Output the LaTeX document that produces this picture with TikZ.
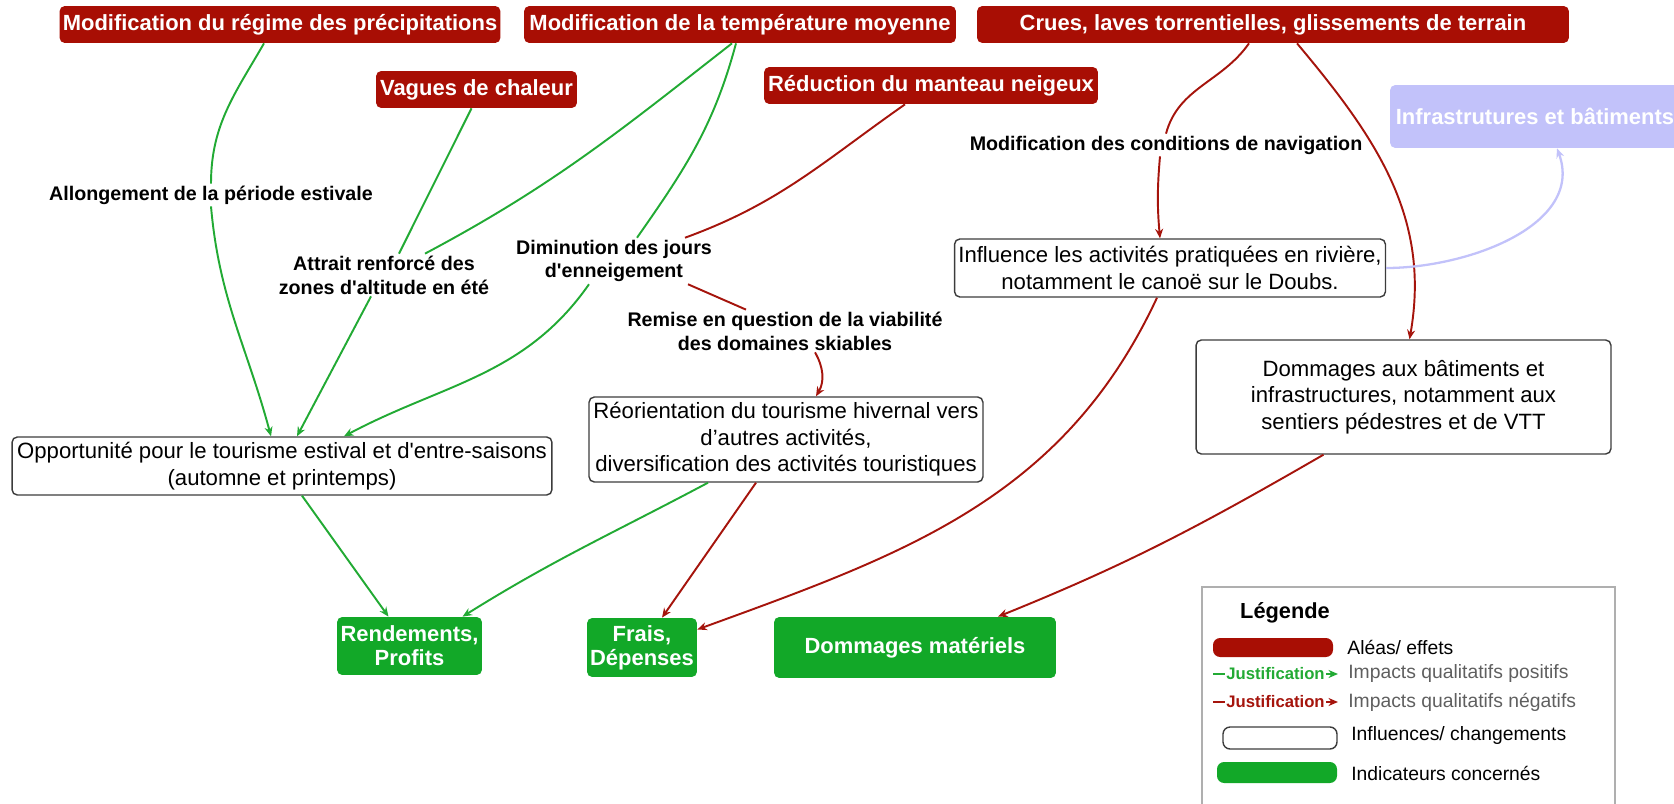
\documentclass[tikz,border=0pt]{standalone}
\usepackage{fontspec}
\setmainfont{Liberation Sans}
\usetikzlibrary{arrows.meta,calc}
\definecolor{aleaR}{RGB}{168,14,4}
\definecolor{negR}{RGB}{165,20,12}
\definecolor{posG}{RGB}{34,170,52}
\definecolor{indG}{RGB}{18,168,40}
\definecolor{ink}{RGB}{60,60,60}
\definecolor{infraB}{RGB}{194,194,250}
\definecolor{legGray}{RGB}{175,175,175}
\definecolor{txtGray}{RGB}{95,95,95}
\tikzset{
  alea/.style={rounded corners=3pt,fill=aleaR,text=white,inner sep=0pt,
    font=\bfseries\fontsize{12.5}{15}\selectfont,minimum height=0.74cm},
  chg/.style={draw=ink,line width=0.8pt,rounded corners=3pt,fill=white,inner sep=0pt,
    align=center,font=\fontsize{12.6}{15}\selectfont},
  indic/.style={rounded corners=3pt,fill=indG,text=white,inner sep=0pt,align=center,
    font=\bfseries\fontsize{12.5}{13.8}\selectfont},
  lbl/.style={inner sep=1pt,align=center,font=\bfseries\fontsize{11.2}{13.6}\selectfont},
  posline/.style={draw=posG,line width=1.1pt},
  negline/.style={draw=negR,line width=1.1pt},
  infline/.style={draw=infraB,line width=1.3pt},
  arr/.style={-{Stealth[length=1.9mm,width=1.6mm]}},
  legtxt/.style={anchor=west,inner sep=0pt,font=\fontsize{11}{13}\selectfont},
  justif/.style={fill=white,inner sep=0.5pt,font=\bfseries\fontsize{9.5}{11}\selectfont},
}

\begin{document}
\begin{tikzpicture}[x=0.02cm,y=-0.02cm]
\useasboundingbox (0,0) rectangle (1674,804);
\clip (0,0) rectangle (1674,804);

% aleas / effets
\node[alea,minimum width=8.82cm] (prec) at (280,24.5) {Modification du régime des précipitations};
\node[alea,minimum width=8.64cm] (temp) at (740,24.5) {Modification de la température moyenne};
\node[alea,minimum width=11.84cm] (crues) at (1273,24.5) {Crues, laves torrentielles, glissements de terrain};
\node[alea,minimum width=4.02cm] (vagues) at (476.5,89.5) {Vagues de chaleur};
\node[alea,minimum width=6.68cm] (neige) at (931,85.5) {Réduction du manteau neigeux};
\node[alea,fill=infraB,minimum width=5.8cm,minimum height=1.26cm] (infra) at (1535,116.5) {Infrastrutures et bâtiments};

% justifications
\node[lbl] (lallong) at (211,195) {Allongement de la période estivale};
\node[lbl] (lattrait) at (384,275) {Attrait renforcé des\\zones d\textquotesingle altitude en été};
\node[lbl] (ldimin) at (614,261) {Diminution des jours\\d\textquotesingle enneigement};
\node[lbl] (lremise) at (785,331) {Remise en question de la viabilité\\des domaines skiables};
\node[lbl] (lnav) at (1166,145) {Modification des conditions de navigation};

% influences / changements
\node[chg,minimum width=10.8cm,minimum height=1.16cm] (opport) at (282,466)
  {Opportunité pour le tourisme estival et d\textquotesingle entre-saisons\\(automne et printemps)};
\node[chg,minimum width=7.88cm,minimum height=1.7cm] (reor) at (786,439.5)
  {Réorientation du tourisme hivernal vers\\d’autres activités,\\ diversification des activités touristiques};
\node[chg,minimum width=8.62cm,minimum height=1.16cm] (canoe) at (1170,268)
  {Influence les activités pratiquées en rivière,\\notamment le canoë sur le Doubs.};
\node[chg,minimum width=8.3cm,minimum height=2.28cm] (dombat) at (1403.5,397)
  {Dommages aux bâtiments et\\infrastructures, notamment aux\\sentiers pédestres et de VTT};

% indicateurs
\node[indic,minimum width=2.9cm,minimum height=1.16cm] (rend) at (409.5,646) {Rendements,\\Profits};
\node[indic,minimum width=2.2cm,minimum height=1.18cm] (frais) at (642,647.5) {Frais,\\Dépenses};
\node[indic,minimum width=5.64cm,minimum height=1.22cm] (dommat) at (915,647.5) {Dommages matériels};

% impacts positifs
\draw[posline] ($(prec.south)+(-16,0)$) to[out=240,in=90] (lallong.north);
\draw[posline,arr] (lallong.south) to[out=-85,in=105] ($(opport.north)+(-11,0)$);
\draw[posline] ($(vagues.south)+(-5,0)$) -- ($(lattrait.north)+(15,0)$);
\draw[posline] ($(temp.south)+(-8,0)$) to[out=218,in=28] ($(lattrait.north)+(41,0)$);
\draw[posline,arr] ($(lattrait.south)+(-13,0)$) -- ($(opport.north)+(15,0)$);
\draw[posline] ($(temp.south)+(-4,0)$) to[out=-105,in=55] ($(ldimin.north)+(23,0)$);
\draw[posline,arr] ($(ldimin.south)+(-25,0)$) to[out=235,in=28] ($(opport.north)+(62,0)$);
\draw[posline,arr] ($(opport.south)+(20,0)$) -- ($(rend.north)+(-21,0)$);
\draw[posline,arr] ($(reor.south)+(-78,0)$) to[out=208,in=32] ($(rend.north)+(53,0)$);

% impacts negatifs
\draw[negline] ($(neige.south)+(-26,0)$) to[out=215,in=20] ($(ldimin.north)+(71,0)$);
\draw[negline] ($(ldimin.south)+(74,0)$) -- ($(lremise.north)+(-39,0)$);
\draw[negline,arr] ($(lremise.south)+(30,0)$) to[out=-60,in=60] ($(reor.north)+(30,0)$);
\draw[negline,arr] ($(reor.south)+(-30,0)$) -- ($(frais.north)+(20,0)$);
\draw[negline] ($(crues.south)+(-24,0)$) to[out=235,in=75] (lnav.north);
\draw[negline,arr] ($(lnav.south)+(-6,0)$) to[out=-95,in=95] ($(canoe.north)+(-10,0)$);
\draw[negline,arr] ($(crues.south)+(24,0)$) to[out=-50,in=80] ($(dombat.north)+(6,0)$);
\draw[negline,arr] ($(canoe.south)+(-13,0)$) to[out=-115,in=20] ($(frais.east)+(0,-18)$);
\draw[negline,arr] ($(dombat.south)+(-80,0)$) to[out=210,in=22] ($(dommat.north)+(83,0)$);
\draw[infline,arr] (canoe.east) to[out=0,in=-70] ($(infra.south)+(22,0)$);

% legende
\draw[legGray,line width=0.6pt] (1202,587) rectangle (1615,830);
\node[font=\bfseries\fontsize{12.4}{14}\selectfont] (legT) at (1285,613) {Légende};
\node[alea,minimum width=2.4cm,minimum height=0.38cm,rounded corners=4pt] (legA) at (1273,647.5) {};
\node[legtxt] (legAt) at (1347,647) {Aléas/ effets};
\coordinate (lgP0) at (1213,674);
\coordinate (lgP1) at (1338,674);
\draw[posline,line width=0.8pt,arr] (lgP0) -- node[justif,text=posG] (legP) {Justification} (lgP1);
\node[legtxt,text=txtGray] (legPt) at (1348,674) {Impacts qualitatifs positifs};
\coordinate (lgN0) at (1213,702);
\coordinate (lgN1) at (1338,702);
\draw[negline,line width=0.8pt,arr] (lgN0) -- node[justif,text=negR] (legN) {Justification} (lgN1);
\node[legtxt,text=txtGray] (legNt) at (1348,702) {Impacts qualitatifs négatifs};
\node[chg,minimum width=2.28cm,minimum height=0.44cm,rounded corners=4pt] (legC) at (1280,738) {};
\node[legtxt] (legCt) at (1351,735) {Influences/ changements};
\node[indic,minimum width=2.4cm,minimum height=0.42cm,rounded corners=4pt] (legI) at (1277,772.5) {};
\node[legtxt] (legIt) at (1351,773) {Indicateurs concernés};
\end{tikzpicture}
\end{document}
